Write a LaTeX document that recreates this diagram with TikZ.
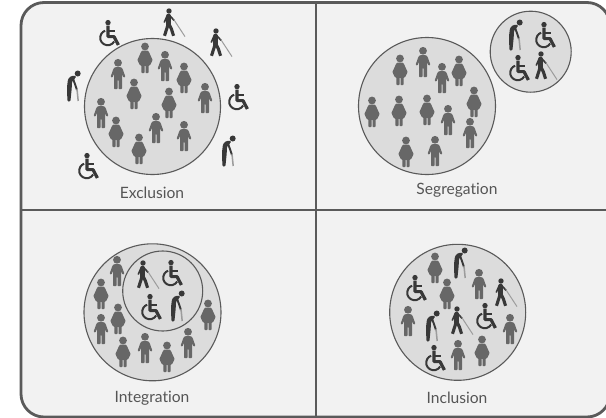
\documentclass[tikz,border=0pt]{standalone}
\usepackage{fontspec}
\setmainfont[Ligatures=NoCommon]{Lato}
\definecolor{pg}{HTML}{676767}
\definecolor{dk}{HTML}{383838}
\definecolor{fr}{HTML}{5A5A5A}
\definecolor{cn}{HTML}{9C9C9C}
\definecolor{pa}{HTML}{F2F2F2}
\definecolor{ci}{HTML}{DCDCDC}
\definecolor{tx}{HTML}{555555}
\tikzset{
  iconman/.pic={
    \fill[pg] (0,-11.2) circle[radius=3.9];
    \fill[pg,rounded corners=0.7] (-3,-6.8) -- (3,-6.8) -- (4.6,-5.2) -- (7.4,2.8) -- (5.6,3.6) -- (4,0) -- (4,15) -- (0.5,15) -- (0.5,6) -- (-0.5,6) -- (-0.5,15) -- (-4,15) -- (-4,0) -- (-5.6,3.6) -- (-7.4,2.8) -- (-4.6,-5.2) -- cycle;
  },
  iconwoman/.pic={
    \fill[pg] (0,-11.5) circle[radius=3.9];
    \fill[pg,rounded corners=0.7] (-3,-7.4) -- (3,-7.4) -- (4.2,-5.5) -- (7.6,2) -- (5,7.4) -- (3.6,7.4) -- (3.6,15) -- (0.5,15) -- (0.5,7.4) -- (-0.5,7.4) -- (-0.5,15) -- (-3.6,15) -- (-3.6,7.4) -- (-5,7.4) -- (-7.6,2) -- (-4.2,-5.5) -- cycle;
  },
  iconwheel/.pic={
    \fill[dk] (0,-10.4) circle[radius=2.7];
    \draw[dk,line width=3.2,line join=round] (0,-7.5) -- (0,3.6) -- (6,3.6) -- (10.4,12);
    \draw[dk,line width=1.8] (0,-2.4) -- (7,-2.4);
    \draw[dk,line width=2] (6.2,8.5) arc[start angle=30,end angle=250,radius=7.5];
  },
  iconblind/.pic={
    \fill[dk] (-4,-12) circle[radius=2.7];
    \draw[dk,line width=4.6,line cap=round] (-4.4,-7) -- (-4.4,1.5);
    \draw[dk,line width=3.1,line join=round] (-4.6,0.5) -- (-8.5,12.8);
    \draw[dk,line width=3.1,line join=round] (-4.2,0.5) -- (-1.6,6) -- (0.6,12.8);
    \draw[dk,line width=1.6] (-3.5,-7.5) -- (1.2,-2.6);
    \draw[dk,line width=1.6] (-6,-7) -- (-8.8,-0.5);
    \draw[cn,line width=1] (0.8,-3.5) -- (12,13.6);
  },
  iconold/.pic={
    \fill[dk] (4.7,-13.5) circle[radius=3];
    \fill[dk,rounded corners=1.2] (3.5,-11) -- (-1.5,-11.2) -- (-5,-8) -- (-6,0) -- (-5.6,14.5) -- (-2.6,14.5) -- (-1.2,0.5) -- (-1.2,-5) -- (1.5,-8) -- cycle;
    \draw[dk,line width=1.9] (0.2,-8) -- (4,3);
    \draw[cn,line width=1.5] (4,2) -- (5.2,14);
  },
  disc/.style={draw=fr,fill=ci,line width=1.1},
  caplabel/.style={text=tx,font=\fontsize{15.6}{17}\selectfont,inner sep=0,anchor=center},
}
\begin{document}
\begin{tikzpicture}[x=1pt,y=-1pt]
\useasboundingbox (0,0) rectangle (606,418);
\fill[white] (0,0) rectangle (606,418);
\draw[fr,fill=pa,line width=2.8,rounded corners=23] (21,2.5) rectangle (610,417);
\draw[fr,line width=2.8] (316,2.5) -- (316,417);
\draw[fr,line width=2.8] (21,210) -- (610,210);

\path[disc] (152.5,106.5) circle[radius=68];
\path[disc] (427,106) circle[radius=68.5];
\path[disc] (530.7,51.7) circle[radius=40.5];
\path[disc] (152.5,312.3) circle[radius=68.5];
\path[disc] (162.7,291) circle[radius=40];
\path[disc] (457.7,312.3) circle[radius=68];

\foreach \x/\y in {165/66,118/74,205/98,101/113,156/128,184/136,
  423/62,442/78,470/133,448/120,435/151,
  117/271,101/329,145/348,188/343,
  479/284,408/321,510/329,458/355}
  \pic at (\x,\y) {iconman};
\foreach \x/\y in {145/58,184/78,134/94,169/103,116/132,139/149,
  400/70,459/71,474/102,427/110,399/111,372/112,406/152,
  101/294,118/319,123/352,167/357,208/315,
  435/268,447/294,482/351}
  \pic at (\x,\y) {iconwoman};
\foreach \x/\y in {108/33,237/97,87/166,544/35,518/68,171/273,150/307,415/288,485/316,434/358}
  \pic at (\x,\y) {iconwheel};
\foreach \x/\y in {173/23,220/43,545/66,147/275,505/293,461/321}
  \pic at (\x,\y) {iconblind};
\foreach \x/\y in {73/87,228/152,515/36,177/307,460/264,432/327}
  \pic at (\x,\y) {iconold};

\node[caplabel] (exc) at (152,192.7) {Exclusion};
\node[caplabel] (seg) at (457,190) {Segregation};
\node[caplabel] (int) at (152,398) {Integration};
\node[caplabel] (inc) at (457,398) {Inclusion};
\end{tikzpicture}
\end{document}
